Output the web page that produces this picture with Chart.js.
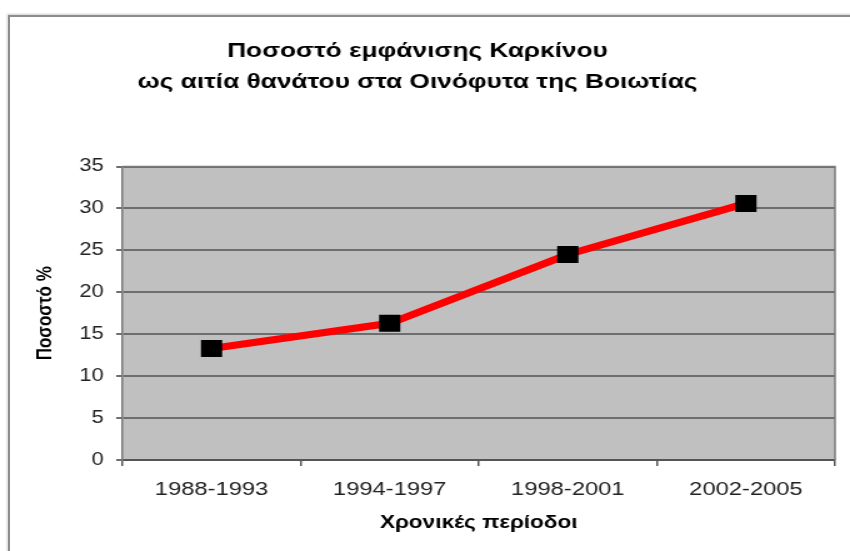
<!DOCTYPE html>
<html>
<head>
<meta charset="utf-8">
<script src="https://cdn.jsdelivr.net/npm/chart.js@4"></script>
<style>
	html, body { margin: 0; padding: 0; background: #fff; overflow: hidden; }
	#frame { position: absolute; left: 8px; top: 15px; right: -20px; bottom: -20px; border-left: 2px solid #8c8c8c; border-top: 2px solid #8c8c8c; box-shadow: -1px -1px 2px #d0d0d0; }
	#graphique { position: absolute; left: 0; top: 0; }
</style>
</head>
<body>
<div id="frame"></div>
<!-- the picture is stretched sideways, so the canvas is drawn narrow and widened by its style -->
<canvas id="graphique" width="680" height="551" style="width: 850px; height: 551px;"></canvas>
<script>
const periodes = ["1988-1993", "1994-1997", "1998-2001", "2002-2005"];
const pourcentages = [13.3, 16.3, 24.5, 30.6];
const titre = ["Ποσοστό εμφάνισης Καρκίνου", "ως αιτία θανάτου στα Οινόφυτα της Βοιωτίας"];
const titreX = "Χρονικές περίοδοι";
const titreY = "Ποσοστό %";

const police = "'Liberation Sans', Arial, sans-serif";

const fondGraphique = {
	id: "fondGraphique",
	beforeDraw(chart) {
		const {ctx, chartArea: a} = chart;
		ctx.save();
		ctx.fillStyle = "#c0c0c0";
		ctx.fillRect(a.left, a.top, a.right - a.left, a.bottom - a.top);
		ctx.restore();
	},
	afterDatasetsDraw(chart) {
		const {ctx, chartArea: a} = chart;
		ctx.save();
		ctx.strokeStyle = "#7a7a7a";
		ctx.lineWidth = 1.5;
		ctx.beginPath();
		ctx.moveTo(a.left, a.top);
		ctx.lineTo(a.right, a.top);
		ctx.lineTo(a.right, a.bottom);
		ctx.stroke();
		ctx.restore();
	}
};

const data = {
	labels: periodes,
	datasets: [{
		data: pourcentages,
		borderColor: "#ff0000",
		borderWidth: 7,
		pointStyle: "rect",
		pointRadius: 12,
		pointHoverRadius: 12,
		pointBackgroundColor: "#000",
		pointBorderColor: "#000",
		pointBorderWidth: 0,
		tension: 0,
	}],
};

const config = {
	type: "line",
	data: data,
	plugins: [fondGraphique],
	options: {
		responsive: false,
		animation: false,
		devicePixelRatio: 1,
		layout: {padding: {left: 0, right: 12, top: 0, bottom: 0}},
		plugins: {
			legend: {display: false},
			tooltip: {enabled: false},
			title: {
				display: true,
				text: titre,
				color: "#000",
				font: {family: police, size: 21, weight: "bold", lineHeight: 1.5},
				padding: {top: 35, bottom: 68.5},
			},
		},
		scales: {
			x: {
				offset: true,
				afterFit: s => { s.height = 91; },
				grid: {offset: true, drawOnChartArea: false, tickLength: 6, color: "#555", lineWidth: 1.5},
				border: {color: "#555", width: 2},
				ticks: {color: "#222", font: {family: police, size: 19}, padding: 12},
				title: {display: true, text: titreX, color: "#000", font: {family: police, size: 18, weight: "bold"}, padding: {bottom: 17}},
			},
			y: {
				min: 0,
				max: 35,
				afterFit: s => { s.width = 98; },
				grid: {color: "#6e6e6e", lineWidth: 2, tickLength: 5, drawTicks: true},
				border: {color: "#7a7a7a", width: 1.5},
				ticks: {stepSize: 5, color: "#222", font: {family: police, size: 17.5}, padding: 10},
				title: {display: true, text: titreY, color: "#000", font: {family: police, size: 17, weight: "bold"}, padding: {top: 26}},
			},
		},
	},
};

new Chart(document.querySelector("#graphique"), config);
</script>
</body>
</html>
